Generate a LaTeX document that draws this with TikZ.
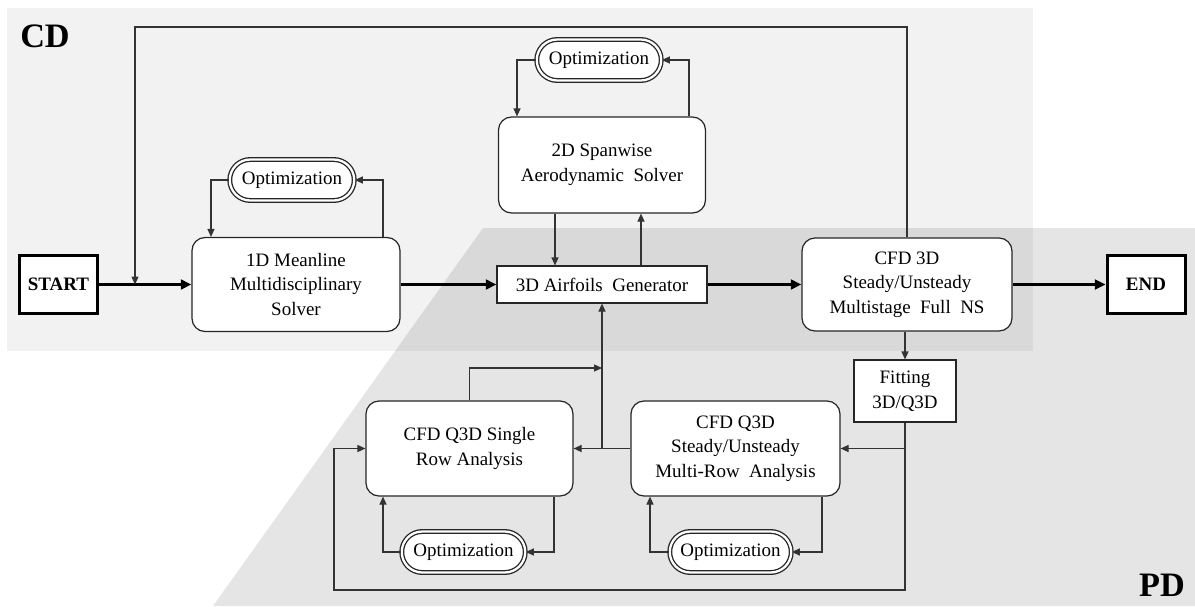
\documentclass[tikz,border=0pt]{standalone}
\usepackage{fontspec}
\setmainfont{Liberation Serif}
\usetikzlibrary{arrows.meta,shapes.misc}

\begin{document}
\begin{tikzpicture}[
        txt/.style={font=\fontsize{10.8pt}{14pt}\selectfont, align=center, inner sep=1pt},
        solver/.style={txt, draw=black!85, fill=white, line width=0.7pt, rounded corners=0.26cm},
        plainbox/.style={txt, draw=black!85, fill=white, line width=0.7pt},
        optbox/.style={txt, shape=rounded rectangle, draw=black!85, line width=0.75pt, double=white, double distance=1.3pt, fill=white, minimum height=0.82cm},
        endbox/.style={txt, font=\fontsize{10.8pt}{14pt}\selectfont\bfseries, draw=black, fill=white, line width=1.7pt, minimum width=1.56cm, minimum height=1.16cm},
        region/.style={font=\fontsize{19.5pt}{20pt}\selectfont\bfseries},
        flow/.style={draw=black!80, line width=0.6pt, -{Triangle[length=4.5pt,width=4pt]}},
        mainflow/.style={draw=black, line width=1.7pt, -{Triangle[length=6pt,width=5.5pt]}}
    ]
        \fill[black, opacity=0.05] (0.14,-0.16) rectangle (20.66,-7.02);
        \fill[black, opacity=0.1] (9.66,-4.56) -- (23.9,-4.56) -- (23.9,-12.12) -- (4.26,-12.12) -- cycle;
        \useasboundingbox (0,0) rectangle (23.9,-12.12);
        \node[region] (cd) at (0.90,-0.72) {CD};
        \node[region] (pd) at (23.24,-11.70) {PD};

        \node[endbox] (start) at (1.17,-5.69) {START};
        \node[solver, minimum width=4.16cm, minimum height=1.88cm] (meanline) at (5.92,-5.69) {1D Meanline\\Multidisciplinary\\Solver};
        \node[optbox, minimum width=2.56cm] (opt1) at (5.84,-3.60) {Optimization};
        \node[solver, minimum width=4.14cm, minimum height=1.92cm] (spanwise) at (12.04,-3.30) {2D Spanwise\\Aerodynamic\ \ Solver};
        \node[optbox, minimum width=2.56cm] (opt2) at (11.98,-1.20) {Optimization};
        \node[plainbox, minimum width=4.20cm, minimum height=0.74cm] (airfoils) at (12.04,-5.69) {3D Airfoils\ \ Generator};
        \node[solver, minimum width=4.20cm, minimum height=1.86cm] (cfd3d) at (18.14,-5.69) {CFD 3D\\Steady/Unsteady\\Multistage\ \ Full\ \ NS};
        \node[endbox] (end) at (22.92,-5.69) {END};
        \node[plainbox, minimum width=2.04cm, minimum height=1.24cm] (fitting) at (18.10,-7.82) {Fitting\\3D/Q3D};
        \node[solver, minimum width=4.14cm, minimum height=1.90cm] (single) at (9.39,-8.97) {CFD Q3D Single\\Row Analysis};
        \node[solver, minimum width=4.18cm, minimum height=1.90cm] (multirow) at (14.71,-8.97) {CFD Q3D\\Steady/Unsteady\\Multi-Row\ \ Analysis};
        \node[optbox, minimum width=2.54cm] (opt3) at (9.27,-11.04) {Optimization};
        \node[optbox, minimum width=2.50cm] (opt4) at (14.61,-11.04) {Optimization};

        \coordinate (topline) at (0,-0.54);
        \coordinate (join) at (2.70,-5.69);
        \coordinate (loopcorner) at (6.68,-11.80);
        \coordinate (merge) at (12.04,-7.36);

        \draw[mainflow] (start) -- (meanline);
        \draw[mainflow] (meanline) -- (airfoils);
        \draw[mainflow] (airfoils) -- (cfd3d);
        \draw[mainflow] (cfd3d) -- (end);
        \draw[flow] (cfd3d.north) -- (cfd3d.north |- topline) -| (join);

        \draw[flow] ([xshift=1.74cm]meanline.north) |- (opt1.east);
        \draw[flow] (opt1.west) -| ([xshift=-1.70cm]meanline.north);
        \draw[flow] ([xshift=1.74cm]spanwise.north) |- (opt2.east);
        \draw[flow] (opt2.west) -| ([xshift=-1.70cm]spanwise.north);
        \draw[flow] ([xshift=-0.94cm]spanwise.south) -- ([xshift=-0.94cm]airfoils.north);
        \draw[flow] ([xshift=0.78cm]airfoils.north) -- ([xshift=0.78cm]spanwise.south);

        \draw[flow] (fitting.north |- cfd3d.south) -- (fitting.north);
        \draw[flow] (fitting.south) |- (loopcorner) |- (single.west);
        \draw[flow] (fitting.south |- multirow.east) -- (multirow.east);
        \draw[flow] (multirow.west) -- (single.east);
        \draw[flow] (airfoils.south |- single.east) -- (airfoils.south);
        \draw[flow] (single.north) |- (merge);

        \draw[flow] ([xshift=1.69cm]single.south) |- (opt3.east);
        \draw[flow] (opt3.west) -| ([xshift=-1.73cm]single.south);
        \draw[flow] ([xshift=1.73cm]multirow.south) |- (opt4.east);
        \draw[flow] (opt4.west) -| ([xshift=-1.71cm]multirow.south);
    \end{tikzpicture}
\end{document}
